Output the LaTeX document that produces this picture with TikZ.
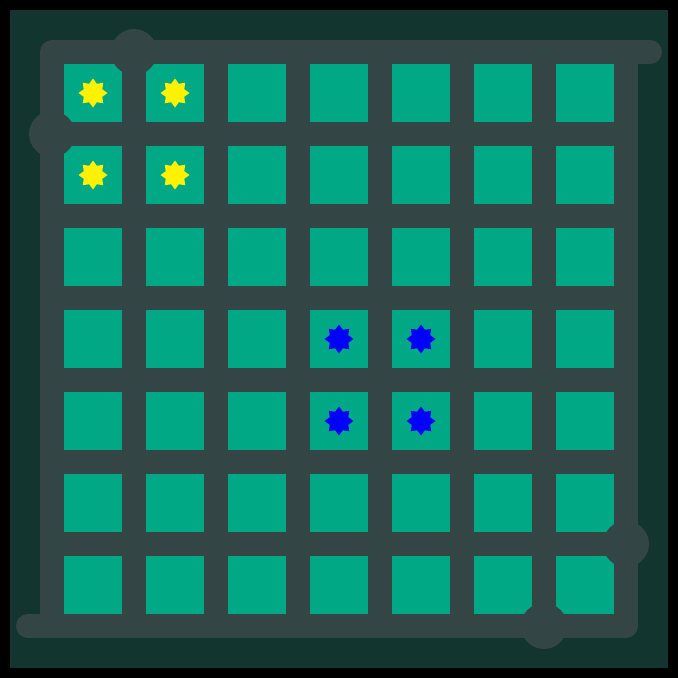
\documentclass[tikz,border=0pt]{standalone}
\usepackage{xcolor}
\usepackage{tikz}
\usetikzlibrary{shapes.geometric}

\definecolor{boardbg}{HTML}{12362F}
\definecolor{wallgray}{HTML}{344545}
\definecolor{tileteal}{HTML}{00A886}

\begin{document}
\begin{tikzpicture}[x=1pt, y=-1pt,
    tile/.style={rectangle, fill=tileteal, minimum size=58pt, inner sep=0pt},
    wall/.style={draw=wallgray, line width=24pt},
    knob/.style={circle, fill=wallgray, minimum size=46pt, inner sep=0pt},
    gem/.style={star, star points=8, star point ratio=1.45, minimum size=29pt, inner sep=0pt}]
    % frame
    \fill[black] (0,0) rectangle (678,678);
    \fill[boardbg] (10,10) rectangle (668,668);

    % tiles
    \foreach \i in {0,...,6} {
        \foreach \j in {0,...,6} {
            \node[tile] (t\i\j) at (93+\i*82, 93+\j*82) {};
        }
    }

    % walls
    \foreach \k in {1,...,6} {
        \draw[wall] (52, 52+\k*82) -- (626, 52+\k*82);
        \draw[wall] (52+\k*82, 52) -- (52+\k*82, 626);
    }
    \draw[wall, line cap=round, line join=round] (650,52) -- (52,52) -- (52,626);
    \draw[wall, line cap=round, line join=round] (28,626) -- (626,626) -- (626,52);

    % knobs
    \node[knob] (k1) at (134,52) {};
    \node[knob] (k2) at (52,134) {};
    \node[knob] (k3) at (626,544) {};
    \node[knob] (k4) at (544,626) {};

    % gems
    \foreach \i/\j in {0/0, 1/0, 0/1, 1/1} {
        \node[gem, fill=yellow] (y\i\j) at (t\i\j) {};
    }
    \foreach \i/\j in {3/3, 4/3, 3/4, 4/4} {
        \node[gem, fill=blue] (b\i\j) at (t\i\j) {};
    }
\end{tikzpicture}
\end{document}
